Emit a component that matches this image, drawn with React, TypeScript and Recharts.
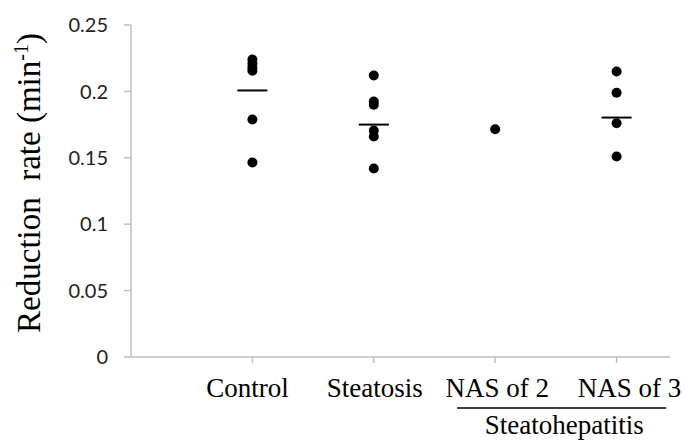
import React from 'react';
import { ScatterChart, Scatter, XAxis, YAxis } from 'recharts';

const categories = ['Control', 'Steatosis', 'NAS of 2', 'NAS of 3'];
const controlValues = [0.224, 0.221, 0.218, 0.2155, 0.1788, 0.1465];
const steatosisValues = [0.212, 0.1924, 0.190, 0.1705, 0.166, 0.142];
const nas2Values = [0.1715];
const nas3Values = [0.215, 0.199, 0.176, 0.151];
const meanValues: (number | null)[] = [0.2007, 0.175, null, 0.1803];
const yTicks = [0, 0.05, 0.1, 0.15, 0.2, 0.25];
const xTicks = [1, 2, 3, 4];
const groupLabel = 'Steatohepatitis';

const groups = [controlValues, steatosisValues, nas2Values, nas3Values];
const points = groups.flatMap((vals, i) => vals.map((v) => ({ x: i + 1, y: v })));
const means = meanValues
  .map((v, i) => (v == null ? null : { x: i + 1, y: v }))
  .filter((d) => d !== null) as { x: number; y: number }[];

const serif = '"Liberation Serif", "Times New Roman", serif';
const sans = 'Lato, "Noto Sans", sans-serif';
const axisColor = '#bfbfbf';
const labelNudge: Record<number, number> = { 1: -5, 2: 1, 3: 2, 4: 13 };

const XTick = (props: any) => {
  const { x, y, payload } = props;
  const i = payload.value;
  const label = categories[i - 1];
  return (
    <g>
      <text x={x + (labelNudge[i] || 0)} y={y} dy="0.71em" textAnchor="middle" fontFamily={serif} fontSize={27} fill="#000">
        {label}
      </text>
      {i === 3 && (
        <g>
          <line x1={x - 38} x2={x + 171} y1={y + 30} y2={y + 30} stroke="#000" strokeWidth={1.5} />
          <text x={x + 69} y={y + 56} textAnchor="middle" fontFamily={serif} fontSize={27} fill="#000">
            {groupLabel}
          </text>
        </g>
      )}
    </g>
  );
};

const YLabel = () => (
  <text
    x={40}
    y={183}
    transform="rotate(-90, 40, 183)"
    textAnchor="middle"
    fontFamily={serif}
    fontSize={33}
    fill="#000"
    style={{ whiteSpace: 'pre' }}
  >
    {'Reduction\u00a0 rate (min'}
    <tspan fontSize={20} dy={-12}>-1</tspan>
    <tspan dy={12}>)</tspan>
  </text>
);

const Dot = (p: any) => <circle cx={p.cx} cy={p.cy} r={5} fill="#000" />;
const MeanLine = (p: any) => (
  <line x1={p.cx - 15} x2={p.cx + 15} y1={p.cy} y2={p.cy} stroke="#000" strokeWidth={2} />
);

export default function App() {
  return (
    <div style={{ position: 'absolute', left: 0, top: 0, background: '#fff' }}>
      <ScatterChart width={685} height={441} margin={{ top: 25, right: 15, bottom: 54, left: 0 }}>
        <XAxis
          type="number"
          dataKey="x"
          domain={[0, 4.44]}
          ticks={xTicks}
          allowDataOverflow
          height={30}
          stroke={axisColor}
          strokeWidth={1.5}
          tickSize={6}
          tickMargin={15}
          tick={<XTick />}
          interval={0}
        />
        <YAxis
          type="number"
          dataKey="y"
          domain={[0, 0.25]}
          ticks={yTicks}
          width={131}
          stroke={axisColor}
          strokeWidth={1.5}
          tickSize={7}
          tickMargin={16}
          tickFormatter={(v: number) => String(v)}
          tick={{ fontFamily: sans, fontSize: 20, fill: '#222' }}
          interval={0}
          label={{ content: <YLabel /> }}
        />
        <Scatter data={points} shape={<Dot />} isAnimationActive={false} />
        <Scatter data={means} shape={<MeanLine />} isAnimationActive={false} />
      </ScatterChart>
    </div>
  );
}
